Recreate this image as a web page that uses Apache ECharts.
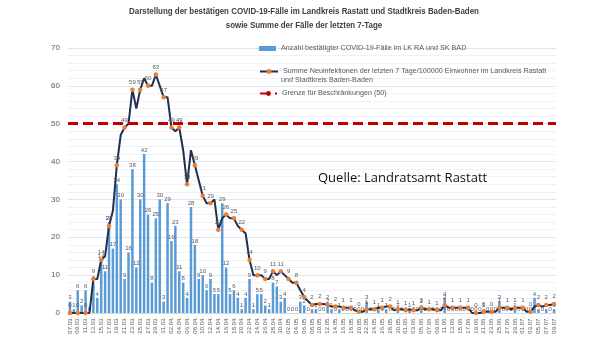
<!DOCTYPE html>
<html><head><meta charset="utf-8">
<script src="https://cdn.jsdelivr.net/npm/echarts@6/dist/echarts.min.js"></script>
<style>html,body{margin:0;padding:0;background:#fff}#c{width:608px;height:342px}</style>
</head><body><div id="c"></div>
<script>
const dates = [
 '07.03.','08.03.','09.03.','10.03.','11.03.','12.03.','13.03.','14.03.','15.03.','16.03.','17.03.','18.03.','19.03.','20.03.','21.03.','22.03.','23.03.','24.03.','25.03.','26.03.','27.03.','28.03.','29.03.','30.03.','31.03.',
 '01.04.','02.04.','03.04.','04.04.','05.04.','06.04.','07.04.','08.04.','09.04.','10.04.','11.04.','12.04.','13.04.','14.04.','15.04.','16.04.','17.04.','18.04.','19.04.','20.04.','21.04.','22.04.','23.04.','24.04.','25.04.','26.04.','27.04.','28.04.','29.04.','30.04.',
 '01.05.','02.05.','03.05.','04.05.','05.05.','06.05.','07.05.','08.05.','09.05.','10.05.','11.05.','12.05.','13.05.','14.05.','15.05.','16.05.','17.05.','18.05.','19.05.','20.05.','21.05.','22.05.','23.05.','24.05.','25.05.','26.05.','27.05.','28.05.','29.05.','30.05.','31.05.',
 '01.06.','02.06.','03.06.','04.06.','05.06.','06.06.','07.06.','08.06.','09.06.','10.06.','11.06.','12.06.','13.06.','14.06.','15.06.','16.06.','17.06.','18.06.','19.06.','20.06.','21.06.','22.06.','23.06.','24.06.','25.06.','26.06.','27.06.','28.06.','29.06.','30.06.',
 '01.07.','02.07.','03.07.','04.07.','05.07.','06.07.','07.07.','08.07.','09.07.'
];
const dailyCases = [
 3,1,6,2,6,0,8,4,14,11,24,17,34,30,9,16,38,12,30,42,26,8,25,30,3,
 29,19,23,11,8,4,28,18,9,10,6,9,5,5,29,12,5,6,4,1,4,9,1,5,5,2,1,8,7,3,
 4,0,0,0,3,2,0,1,1,0,0,2,1,0,1,0,0,0,0,0,0,3,0,0,1,0,1,0,0,1,0,
 0,1,0,0,2,0,0,0,0,0,4,0,0,0,0,0,0,0,0,0,1,0,0,0,3,0,0,0,1,0,
 0,0,0,4,1,0,1,0,1
];
const incidence7 = [
 0,0,0,0,0,0,9,9,14,15,23,27,39,47,49,50,59,54,59,62,60,60,63,60,57,
 57,49,48,49,43,34,43,39,35,31,29,29,30,22,25,26,25,25,23,22,21,14,10,10,10,9,9,11,10,11,
 10,9,8,8,6,4.2,3.1,2.1,2.4,2.4,2.4,2.1,1.7,1.7,1.7,1.4,1.4,1.4,0.7,0.3,0.3,1.0,1.0,1.0,1.4,1.4,1.7,1.7,0.7,1.0,1.0,
 0.7,1.0,0.7,0.7,1.4,1.0,1.0,1.0,0.7,0.7,2.1,1.4,1.4,1.4,1.4,1.4,1.4,0,0,0,0.3,0.3,0.3,0.3,1.4,1.4,1.4,1.0,1.4,1.4,
 1.4,0.3,0.3,1.7,2.1,1.7,2.1,2.1,2.4
];
const LIMIT = 50;
const yTicks = {min: 0, max: 70, interval: 10};
const titleLines = ['Darstellung der bestätigen COVID-19-Fälle im Landkreis Rastatt und Stadtkreis Baden-Baden','sowie Summe der Fälle der letzten 7-Tage'];
const nameBar = 'Anzahl bestätigter COVID-19-Fälle im LK RA und SK BAD';
const nameLine1 = 'Summe Neuinfektionen der letzten 7 Tage/100000 Einwohner im Landkreis Rastatt';
const nameLine2 = 'und Stadtkreis Baden-Baden';
const nameLimit = 'Grenze für Beschränkungen (50)';
const sourceText = 'Quelle: Landratsamt Rastatt';

const chart = echarts.init(document.getElementById('c'), null, {renderer: 'canvas'});
const gray = '#595959';
const legendText = {fontSize: 7.2, color: gray, fontFamily: 'Liberation Sans'};
const titleStyle = {fontSize: 9, fontWeight: 'bold', fill: '#404040', fontFamily: 'Liberation Sans', textAlign: 'center', textVerticalAlign: 'middle'};
chart.setOption({
  animation: false,
  grid: {left: 68, right: 52, top: 48, bottom: 29, containLabel: false},
  legend: [
    {left: 259, top: 45, padding: 0, data: [nameBar], itemWidth: 17, itemHeight: 5, textStyle: legendText, icon: 'rect'},
    {left: 259, top: 68, padding: 0, data: [nameLine1], itemWidth: 18, itemHeight: 6, textStyle: legendText},
    {left: 259, top: 90, padding: 0, data: [nameLimit], itemWidth: 17, itemHeight: 6, textStyle: legendText}
  ],
  graphic: [
    {type: 'text', x: 304, y: 12, scaleX: 0.88, z: 100, style: Object.assign({text: titleLines[0]}, titleStyle)},
    {type: 'text', x: 304, y: 26, scaleX: 0.88, z: 100, style: Object.assign({text: titleLines[1]}, titleStyle)},
    {type: 'text', left: 281, top: 77, z: 100, style: {text: nameLine2, fontSize: 7.2, fill: gray, fontFamily: 'Liberation Sans'}},
    {type: 'text', left: 318, top: 172, z: 100, style: {text: sourceText, fontSize: 13, fill: '#111', fontFamily: 'Open Sans'}}
  ],
  xAxis: {type: 'category', data: dates, boundaryGap: true,
    axisLine: {lineStyle: {color: '#d9d9d9'}}, axisTick: {show: false},
    axisLabel: {interval: 1, rotate: 90, fontSize: 6, color: gray, margin: 4}},
  yAxis: {type: 'value', min: yTicks.min, max: yTicks.max, interval: yTicks.interval,
    axisLine: {show: false}, axisTick: {show: false},
    axisLabel: {fontSize: 8, color: gray, margin: 8},
    splitLine: {lineStyle: {color: '#dce6f1', width: 1}},
    minorTick: {show: false, splitNumber: 5},
    minorSplitLine: {show: true, lineStyle: {color: '#eef2f8', width: 1}}},
  series: [
    {type: 'bar', name: nameBar, data: dailyCases, barWidth: 2.5,
      itemStyle: {color: '#5b9bd5'},
      label: {show: true, position: 'top', distance: 1, fontSize: 6, color: gray}},
    {type: 'line', name: nameLine1, data: incidence7, z: 3,
      symbol: 'circle', symbolSize: 4.5, showSymbol: true,
      lineStyle: {color: '#1f3050', width: 2},
      itemStyle: {color: '#ed7d31'},
      label: {show: true, position: 'top', distance: 2, fontSize: 6, color: gray,
        formatter: p => Math.round(p.value)}},
    {type: 'line', name: nameLimit, data: [], z: 2,
      lineStyle: {color: '#c00000', type: [10, 5], width: 3}, itemStyle: {color: '#c00000'}, symbol: 'none',
      markLine: {silent: true, symbol: 'none', label: {show: false},
        lineStyle: {color: '#c00000', type: [10, 5], width: 3},
        data: [{yAxis: LIMIT}]}}
  ]
});
</script></body></html>
